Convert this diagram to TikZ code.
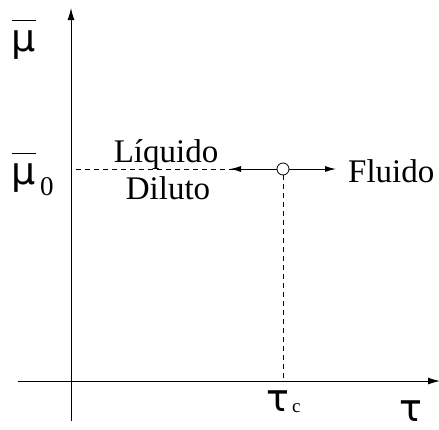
\documentclass[tikz,border=0pt]{standalone}
\usepackage{fontspec}
\setmainfont{Liberation Serif}
\newfontfamily\grk{DejaVu Sans}
\usetikzlibrary{arrows.meta}
\newcommand{\mubar}{$\overline{\raisebox{0pt}[0.78em][0pt]{\grk μ}}$}
\begin{document}
\begin{tikzpicture}[x=1pt,y=-1pt,
  axis/.style={line width=1pt,-{Latex[length=12pt,width=7pt]}},
  guide/.style={line width=0.8pt,dash pattern=on 5pt off 4pt},
  flow/.style={line width=1pt,-{Latex[length=11pt,width=6pt]}},
  lab/.style={inner sep=0pt,font=\fontsize{33}{38}\selectfont},
  glab/.style={inner sep=0pt,font=\fontsize{38}{42}\selectfont\grk},
  sub/.style={inner sep=0pt,font=\fontsize{27}{30}\selectfont},
  csubst/.style={inner sep=0pt,font=\fontsize{19}{22}\selectfont}]
\useasboundingbox (0,0) rectangle (439,429);
\coordinate (ybot) at (71,421);
\coordinate (ytop) at (71,8);
\coordinate (xl) at (18,381);
\coordinate (xr) at (440,381);
\draw[axis] (ybot) -- (ytop);
\draw[axis] (xl) -- (xr);
\node[draw,circle,minimum size=12pt,inner sep=0pt,line width=0.8pt] (c) at (283,169) {};
\coordinate (g0) at (76,169);
\coordinate (lt) at (230,169);
\coordinate (rt) at (336,169);
\coordinate (xc) at (283,381);
\draw[guide] (g0) -- (c.west);
\draw[flow] (c.west) -- (lt);
\draw[flow] (c.east) -- (rt);
\draw[guide] (c.south) -- (xc);
\node[glab,anchor=base] (mu) at (24,51) {\mubar};
\node[glab,anchor=base] (mu0) at (24,184) {\mubar};
\node[sub,anchor=base west] (zero) at (40,195) {0};
\node[lab,anchor=base] (liq) at (166,162) {Líquido};
\node[lab,anchor=base] (dil) at (168,199) {Diluto};
\node[lab,anchor=base west] (flu) at (348,182) {Fluido};
\node[glab,anchor=base] (tc) at (278,411) {τ};
\node[csubst,anchor=base west] (csub) at (292,412) {c};
\node[glab,anchor=base] (tau) at (411,421) {τ};
\end{tikzpicture}
\end{document}
